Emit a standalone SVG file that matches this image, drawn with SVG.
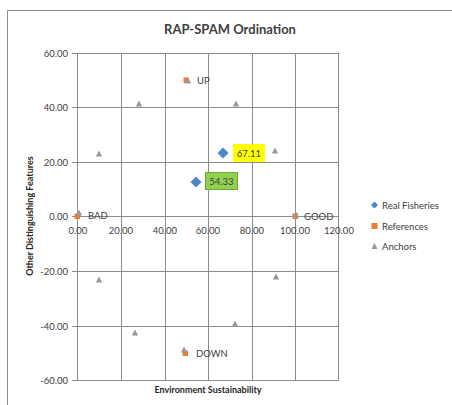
<svg xmlns="http://www.w3.org/2000/svg" width="452" height="405" viewBox="0 0 452 405">
<style>
.t{font-family:Lato,"Liberation Sans",sans-serif;fill:#404040}
.tick{font-size:9.5px}
.ax{font-size:9px;font-weight:bold;fill:#262626}
.grid{stroke:#8c8c8c;stroke-width:1;fill:none}
.rf{fill:#4a86c8}
.ref{fill:#ed7d31}
.anc{fill:#999999}
.lbl{font-size:9.5px}
</style>
<defs>
<path id="tri" d="M0,-3.5 L3.2,2.5 L-3.2,2.5 Z" class="anc"/>
<rect id="sq" x="-2.5" y="-2.5" width="5.5" height="5.5" class="ref"/>
<path id="dia" d="M0,-5.5 L5.5,0 L0,5.5 L-5.5,0 Z" class="rf"/>
</defs>
<rect x="0" y="0" width="452" height="405" fill="#ffffff"/>
<path d="M7.5,405 V10.5 H452" fill="none" stroke="#8c8c8c" stroke-width="1"/>
<text class="t" x="230" y="34" text-anchor="middle" font-size="13" font-weight="bold" fill="#262626">RAP-SPAM Ordination</text>
<g id="grid" class="grid">
<path d="M77,53.5 H339 M77,107.5 H339 M77,162.5 H339 M72,216.5 H339 M77,271.5 H339 M77,326.5 H339 M77,380.5 H339"/>
<path d="M121.5,53 V381 M165.5,53 V381 M208.5,53 V381 M252.5,53 V381 M295.5,53 V381 M338.5,53 V381"/>
<path d="M77.5,53 V381" />
<path d="M72,53.5 H77 M72,107.5 H77 M72,162.5 H77 M72,271.5 H77 M72,326.5 H77 M72,380.5 H77"/>
</g>
<g id="yticks" class="t tick" text-anchor="end">
<text x="68" y="57">60.00</text>
<text x="68" y="111">40.00</text>
<text x="68" y="166">20.00</text>
<text x="68" y="220">0.00</text>
<text x="68" y="275">-20.00</text>
<text x="68" y="330">-40.00</text>
<text x="68" y="384">-60.00</text>
</g>
<g id="xticks" class="t tick" text-anchor="middle">
<text x="78" y="234">0.00</text>
<text x="121" y="234">20.00</text>
<text x="165" y="234">40.00</text>
<text x="208" y="234">60.00</text>
<text x="252" y="234">80.00</text>
<text x="295" y="234">100.00</text>
<text x="339" y="234">120.00</text>
</g>
<text class="t ax" x="208" y="393" text-anchor="middle">Environment Sustainability</text>
<text class="t ax" transform="translate(33,216) rotate(-90)" text-anchor="middle">Other Distinguishing Features</text>
<g id="references">
<use href="#sq" x="77" y="216"/>
<use href="#sq" x="295" y="216"/>
<use href="#sq" x="186" y="80"/>
<use href="#sq" x="185" y="353"/>
</g>
<g id="anchors">
<use href="#tri" x="79" y="213"/>
<use href="#tri" x="99" y="154"/>
<use href="#tri" x="139" y="104"/>
<use href="#tri" x="236" y="104"/>
<use href="#tri" x="275" y="151"/>
<use href="#tri" x="99" y="280"/>
<use href="#tri" x="135" y="333"/>
<use href="#tri" x="184" y="350"/>
<use href="#tri" x="235" y="324"/>
<use href="#tri" x="276" y="277"/>
<use href="#tri" x="188" y="81"/>
<use href="#tri" x="296" y="215"/>
</g>
<g id="ref-labels" class="t lbl">
<text x="197" y="84">UP</text>
<text x="88" y="219">BAD</text>
<text x="304" y="220">GOOD</text>
<text x="196" y="357">DOWN</text>
</g>
<g id="fisheries">
<use href="#dia" x="223" y="153"/>
<use href="#dia" x="196" y="182"/>
</g>
<g id="label-67">
<rect x="233" y="144" width="32" height="18" fill="#ffff00"/>
<text class="t lbl" x="249" y="157" text-anchor="middle">67.11</text>
</g>
<g id="label-54">
<rect x="205.5" y="172.5" width="32" height="17" fill="#92d050" stroke="#6aaa3a" stroke-width="1"/>
<text class="t lbl" x="221.5" y="185" text-anchor="middle">54.33</text>
</g>
<g id="legend" class="t lbl">
<path d="M374.5,201.5 L378,205 L374.5,208.5 L371,205 Z" class="rf"/>
<text x="382" y="208.5">Real Fisheries</text>
<rect x="371.5" y="223" width="6" height="6" class="ref"/>
<text x="382" y="229.5">References</text>
<path d="M374.5,243 L377.5,249 L371.5,249 Z" class="anc"/>
<text x="382" y="250">Anchors</text>
</g>
</svg>
